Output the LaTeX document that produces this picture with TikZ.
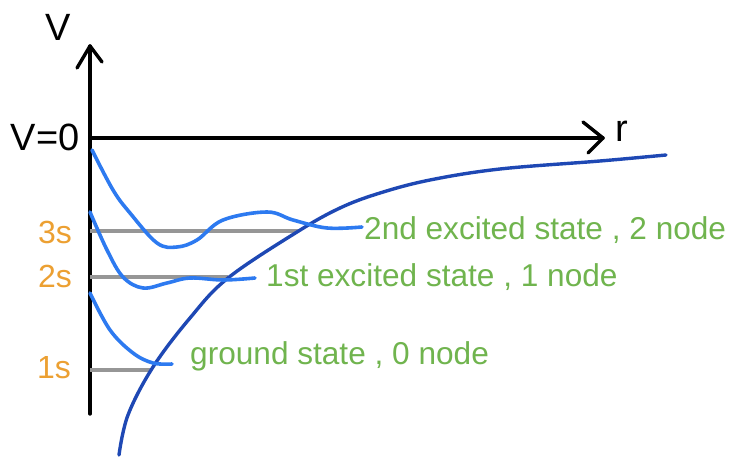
\documentclass[tikz,border=0pt]{standalone}
\usepackage{fontspec}
\setmainfont{Liberation Sans}
\definecolor{wave}{RGB}{45,122,240}
\definecolor{pot}{RGB}{30,72,180}
\definecolor{lvl}{RGB}{150,150,150}
\definecolor{orb}{RGB}{236,160,50}
\definecolor{lab}{RGB}{112,180,78}
\begin{document}
\begin{tikzpicture}[x=1pt,y=-1pt,line cap=round,line join=round,
  axis/.style={line width=3.4pt,black},
  wavef/.style={line width=3.6pt,wave},
  potl/.style={line width=3.4pt,pot},
  level/.style={line width=3.4pt,lvl,line cap=butt},
  statelab/.style={anchor=west,text=lab,inner sep=0pt,font=\fontsize{31.6}{36}\selectfont},
  orblab/.style={text=orb,inner sep=0pt,font=\fontsize{32}{36}\selectfont},
  axlab/.style={inner sep=0pt,font=\fontsize{38}{44}\selectfont}]
\useasboundingbox (0,0) rectangle (729,457);
% axes
\coordinate (o) at (90,138);
\coordinate (vtop) at (90,46);
\coordinate (vbot) at (90,414);
\coordinate (rtip) at (603,138);
\draw[axis] (vbot) -- (vtop);
\draw[axis] (77,68) -- (vtop) -- (102,62);
\draw[axis] (o) -- (rtip);
\draw[axis] (583,122) -- (rtip) -- (588,153);
\node[axlab] (V) at (58,27) {V};
\node[axlab] (V0) at (45,137) {V=0};
\node[axlab] (r) at (622,131) {r};
% energy levels
\coordinate (l3a) at (90,231); \coordinate (l3b) at (298,231);
\coordinate (l2a) at (90,277); \coordinate (l2b) at (228,277);
\coordinate (l1a) at (90,370); \coordinate (l1b) at (152,370);
\draw[level] (l3a) -- (l3b);
\draw[level] (l2a) -- (l2b);
\draw[level] (l1a) -- (l1b);
\node[orblab] (s3) at (55,232) {3s};
\node[orblab] (s2) at (55,276) {2s};
\node[orblab] (s1) at (54,368) {1s};
% potential
\draw[potl] plot[smooth,tension=0.6] coordinates {(119,455) (128,415) (153,367) (190,318) (228,278) (297,232) (340,208) (380,193) (430,180) (500,169) (600,161) (666,155)};
% wavefunctions
\draw[wavef] plot[smooth,tension=0.6] coordinates {(92,150) (113,190) (130,213) (157,243) (177,247) (197,240) (223,220) (267,212) (293,220) (327,228) (362,227)};
\draw[wavef] plot[smooth,tension=0.6] coordinates {(90,212) (107,250) (123,277) (143,288) (167,283) (190,278) (223,280) (255,278)};
\draw[wavef] plot[smooth,tension=0.6] coordinates {(90,293) (110,330) (133,353) (153,363) (172,364)};
% labels
\node[statelab] (t3) at (364,230) {2nd excited state , 2 node};
\node[statelab] (t2) at (266,277) {1st excited state , 1 node};
\node[statelab] (t1) at (190,356) {ground state , 0 node};
\end{tikzpicture}
\end{document}
